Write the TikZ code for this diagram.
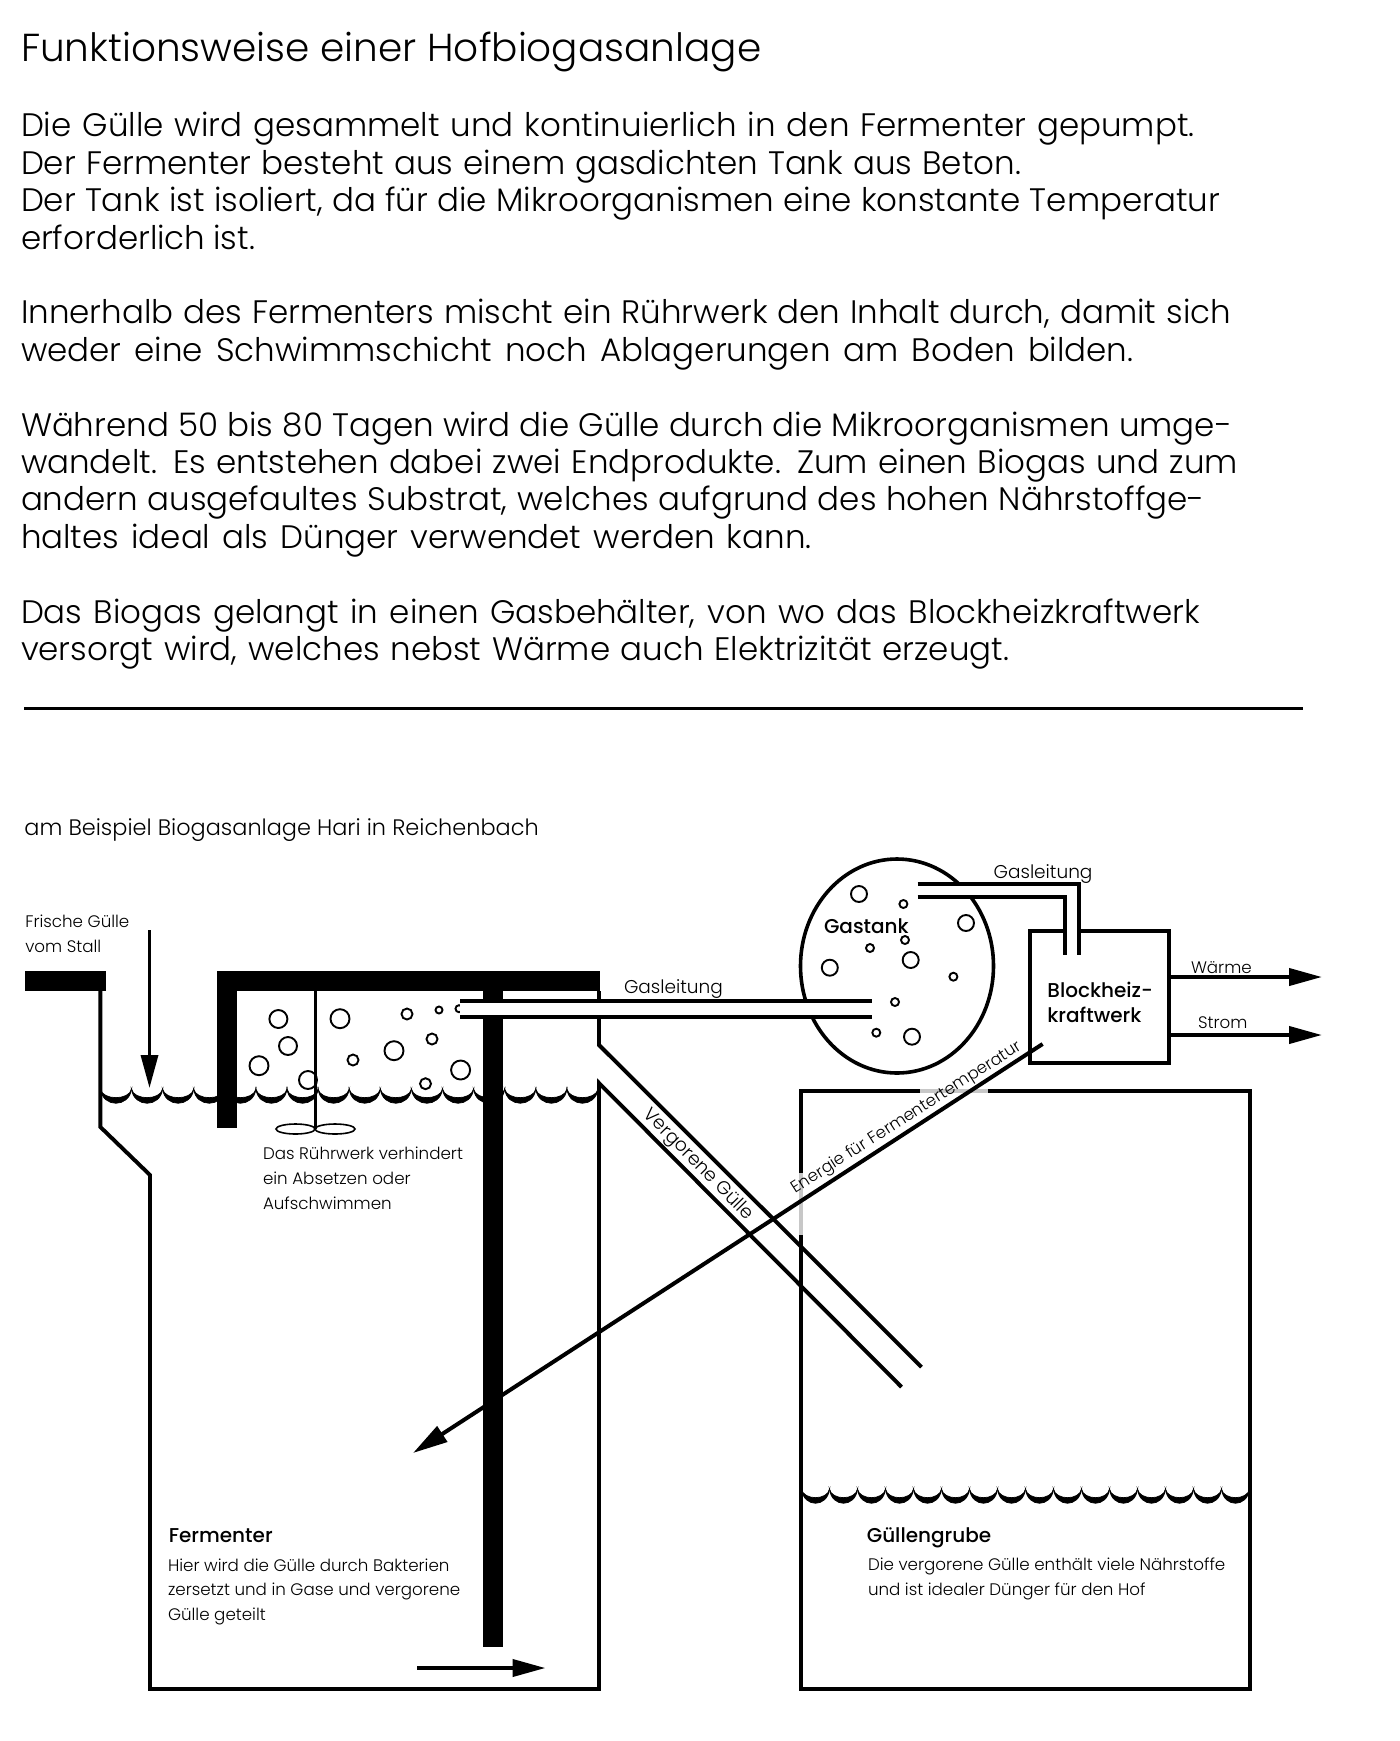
\documentclass[tikz,border=0pt]{standalone}
\usepackage{fontspec}
\usetikzlibrary{arrows.meta,shapes.geometric}
\setmainfont{Poppins Light}[BoldFont={Poppins Medium}]
\newcommand{\fitto}[2]{\hbox to #1pt{#2}}
\tikzset{
  lab/.style={anchor=base west,inner sep=0pt,outer sep=0pt,align=left},
  big/.style={lab,font=\fontsize{32.5}{37.4}\selectfont},
  small/.style={lab,font=\fontsize{16.7}{24.6}\selectfont},
  mid/.style={lab,font=\fontsize{22.4}{25}\selectfont},
  pipelabel/.style={lab,font=\fontsize{18.5}{25}\selectfont},
  head/.style={lab,font=\fontsize{20}{25}\selectfont\bfseries},
  wall/.style={line width=3.9pt,line cap=butt,line join=miter},
  pipe/.style={line width=4pt},
  bubble/.style={circle,draw,line width=1.9pt,inner sep=0pt,minimum size=#1},
  arr/.style={line width=4pt,-{Triangle[length=33pt,width=17pt]}},
  crest/.style={fill=black,draw=black,line width=.7pt}
}
\newcommand{\scallop}[3]{% x, y, w
  \fill[crest] (#1,#2) .. controls (#1+.07*#3,#2+19) and (#1+.93*#3,#2+19) .. (#1+#3,#2)
     .. controls (#1+.93*#3,#2+11.5) and (#1+.07*#3,#2+11.5) .. cycle;}
\begin{document}
\begin{tikzpicture}[x=1pt,y=-1pt]
\useasboundingbox (0,0) rectangle (1400,1741);
% text block
\node[lab,font=\fontsize{39}{40}\selectfont] (title) at (21,61) {Funktionsweise einer Hofbiogasanlage};
\node[big] (p1) at (21,249) {\fitto{1173.6}{Die Gülle wird gesammelt und kontinuierlich in den Fermenter gepumpt.}\\\fitto{1000}{Der Fermenter besteht aus einem gasdichten Tank aus Beton.}\\\fitto{1199}{Der Tank ist isoliert, da für die Mikroorganismen eine konstante Temperatur}\\\fitto{234}{erforderlich ist.}};
\node[big] (p2) at (21,361.2) {\fitto{1210}{Innerhalb des Fermenters mischt ein Rührwerk den Inhalt durch, damit sich}\\\fitto{1112.5}{weder eine Schwimmschicht noch Ablagerungen am Boden bilden.}};
\node[big] (p3) at (21,548.2) {\fitto{1211}{Während 50 bis 80 Tagen wird die Gülle durch die Mikroorganismen umge-}\\\fitto{1217}{wandelt. Es entstehen dabei zwei Endprodukte. Zum einen Biogas und zum}\\\fitto{1183.6}{andern ausgefaultes Substrat, welches aufgrund des hohen Nährstoffge-}\\\fitto{790.6}{haltes ideal als Dünger verwendet werden kann.}};
\node[big] (p4) at (21,660.4) {\fitto{1179}{Das Biogas gelangt in einen Gasbehälter, von wo das Blockheizkraftwerk}\\\fitto{988}{versorgt wird, welches nebst Wärme auch Elektrizität erzeugt.}};
\coordinate (ruleA) at (24.4,708.5); \coordinate (ruleB) at (1303,708.5);
\draw[line width=3pt] (ruleA) -- (ruleB);
\node[mid] (bsp) at (24.4,835) {am Beispiel Biogasanlage Hari in Reichenbach};

% fermenter outline
\coordinate (fA) at (100.4,991); \coordinate (fB) at (100.4,1127); \coordinate (fC) at (150,1175);
\coordinate (fD) at (150,1689); \coordinate (fE) at (599,1689); \coordinate (fF) at (599,1083);
\coordinate (pipeUpEnd) at (921.5,1367); \coordinate (pipeLoEnd) at (901.5,1387);
\coordinate (fG) at (599,991); \coordinate (fH) at (599,1045);
\draw[wall] (fA) -- (fB) -- (fC) -- (fD) -- (fE) -- (fF) -- (pipeLoEnd);
\draw[wall] (fG) -- (fH) -- (pipeUpEnd);
% black bars
\fill (24.5,971) rectangle (106,991.3);
\fill (217,971) rectangle (600,991.3);
\fill (217,971) rectangle (236.5,1128);
\fill (483,991) rectangle (503,1647);
% stirrer
\coordinate (shaftTop) at (315,991); \coordinate (shaftBot) at (315,1129);
\draw[line width=3pt] (shaftTop) -- (shaftBot);
\node[ellipse,draw,line width=1.6pt,inner sep=0pt,minimum width=39pt,minimum height=10pt] (bladeL) at (295.5,1129) {};
\node[ellipse,draw,line width=1.6pt,inner sep=0pt,minimum width=40pt,minimum height=10pt] (bladeR) at (335,1129) {};
% waves fermenter
\foreach \i in {0,...,15}{\scallop{100.4+31.1*\i}{1089}{31.1}}
% bubbles fermenter
\foreach \n/\x/\y/\d in {a/278.4/1019/18,b/288/1046/18,c/259/1065.7/19,d/308/1080/18,e/340/1018.7/19,f/353/1060/11,g/394/1050.7/19,h/407/1014/11,i/439/1010/7,j/459/1008.7/7,k/432/1039/11,l/460.6/1070/19,m/425.5/1083.7/11}
  \node[bubble=\d pt] (fb\n) at (\x,\y) {};
% gas tank
\node[ellipse,draw,line width=3.6pt,inner sep=0pt,minimum width=193pt,minimum height=214pt] (tank) at (897,966) {};
\foreach \n/\x/\y/\d in {a/859/894/16,b/903.4/904/8,c/966/923/16,d/905/940/8,e/870/948/8,f/910.7/960/16,g/829.8/967.7/16,h/953.4/976.7/8,i/895/1002/8,j/876.3/1032.7/8,k/912/1036.7/16}
  \node[bubble=\d pt] (tb\n) at (\x,\y) {};
% gas pipe fermenter to tank
\fill[white] (460,1001) rectangle (872.4,1017);
\coordinate (gA) at (460,1001); \coordinate (gB) at (872.4,1001);
\coordinate (gC) at (460,1017); \coordinate (gD) at (872.4,1017);
\draw[pipe] (gA) -- (gB); \draw[pipe] (gC) -- (gD);
% big pit
\coordinate (pA) at (801,1090.7); \coordinate (pB) at (1249.6,1090.7);
\coordinate (pC) at (1249.6,1689); \coordinate (pD) at (801,1689);
\draw[wall] (pA) -- (pB) -- (pC) -- (pD) -- cycle;
\draw[line width=3.9pt,black!22] (920,1090.7) -- (988,1090.7);
\draw[line width=3.9pt,black!22] (801,1173) -- (801,1235);
\foreach \i in {0,...,15}{\scallop{801.5+28*\i}{1489}{28}}
% CHP
\node[draw,line width=3.6pt,inner sep=0pt,minimum width=139pt,minimum height=132pt] (bhkw) at (1099.5,997) {};
% gas pipe tank to CHP
\fill[white] (917.5,884) -- (1079,884) -- (1079,955) -- (1065,955) -- (1065,896.7) -- (917.5,896.7) -- cycle;
\coordinate (hA) at (917.5,884); \coordinate (hB) at (1079,884); \coordinate (hC) at (1079,955);
\coordinate (iA) at (917.5,896.7); \coordinate (iB) at (1065,896.7); \coordinate (iC) at (1065,955);
\draw[line width=3.6pt] (hA) -- (hB) -- (hC);
\draw[line width=3.6pt] (iA) -- (iB) -- (iC);
% arrows
\coordinate (wTip) at (1322,977); \coordinate (sTip) at (1322,1035);
\draw[arr] (bhkw.east |- wTip) -- (wTip);
\draw[arr] (bhkw.east |- sTip) -- (sTip);
\coordinate (inA) at (149.5,930); \coordinate (inB) at (149.5,1088);
\draw[arr,line width=3.4pt] (inA) -- (inB);
\coordinate (outA) at (417,1668); \coordinate (outB) at (545.5,1668);
\draw[arr] (outA) -- (outB);
\coordinate (enA) at (1042.6,1044); \coordinate (enB) at (413,1453);
\draw[arr,-{Triangle[length=35pt,width=18pt]}] (enA) -- (enB);
% labels
\node[small] (frisch) at (25.3,952) {Frische Gülle\\vom Stall};
\node[small] (ruehr) at (263,1209) {Das Rührwerk verhindert\\ein Absetzen oder\\Aufschwimmen};
\node[pipelabel] (gas1) at (624,993.5) {Gasleitung};
\node[pipelabel] (gas2) at (993.6,878.5) {Gasleitung};
\node[head] (gast) at (824,933.7) {Gastank};
\node[head] (bhk) at (1047.4,1022.7) {Blockheiz-\\kraftwerk};
\node[small] (waerme) at (1191,973.5) {Wärme};
\node[small] (strom) at (1198,1028) {Strom};
\node[head] (ferm) at (168.8,1542.5) {Fermenter};
\node[small] (fermt) at (168,1620.5) {Hier wird die Gülle durch Bakterien\\zersetzt und in Gase und vergorene\\Gülle geteilt};
\node[head] (gru) at (866.8,1542.5) {Güllengrube};
\node[small] (grut) at (868,1595.5) {Die vergorene Gülle enthält viele Nährstoffe\\und ist idealer Dünger für den Hof};
\node[anchor=center,inner sep=0pt,rotate=-45.5,font=\fontsize{18.6}{20}\selectfont] (verg) at (698,1165) {Vergorene Gülle};
\node[anchor=center,inner sep=0pt,rotate=32.6,font=\fontsize{16.5}{20}\selectfont] (energ) at (907,1118) {Energie für Fermentertemperatur};
\end{tikzpicture}
\end{document}
